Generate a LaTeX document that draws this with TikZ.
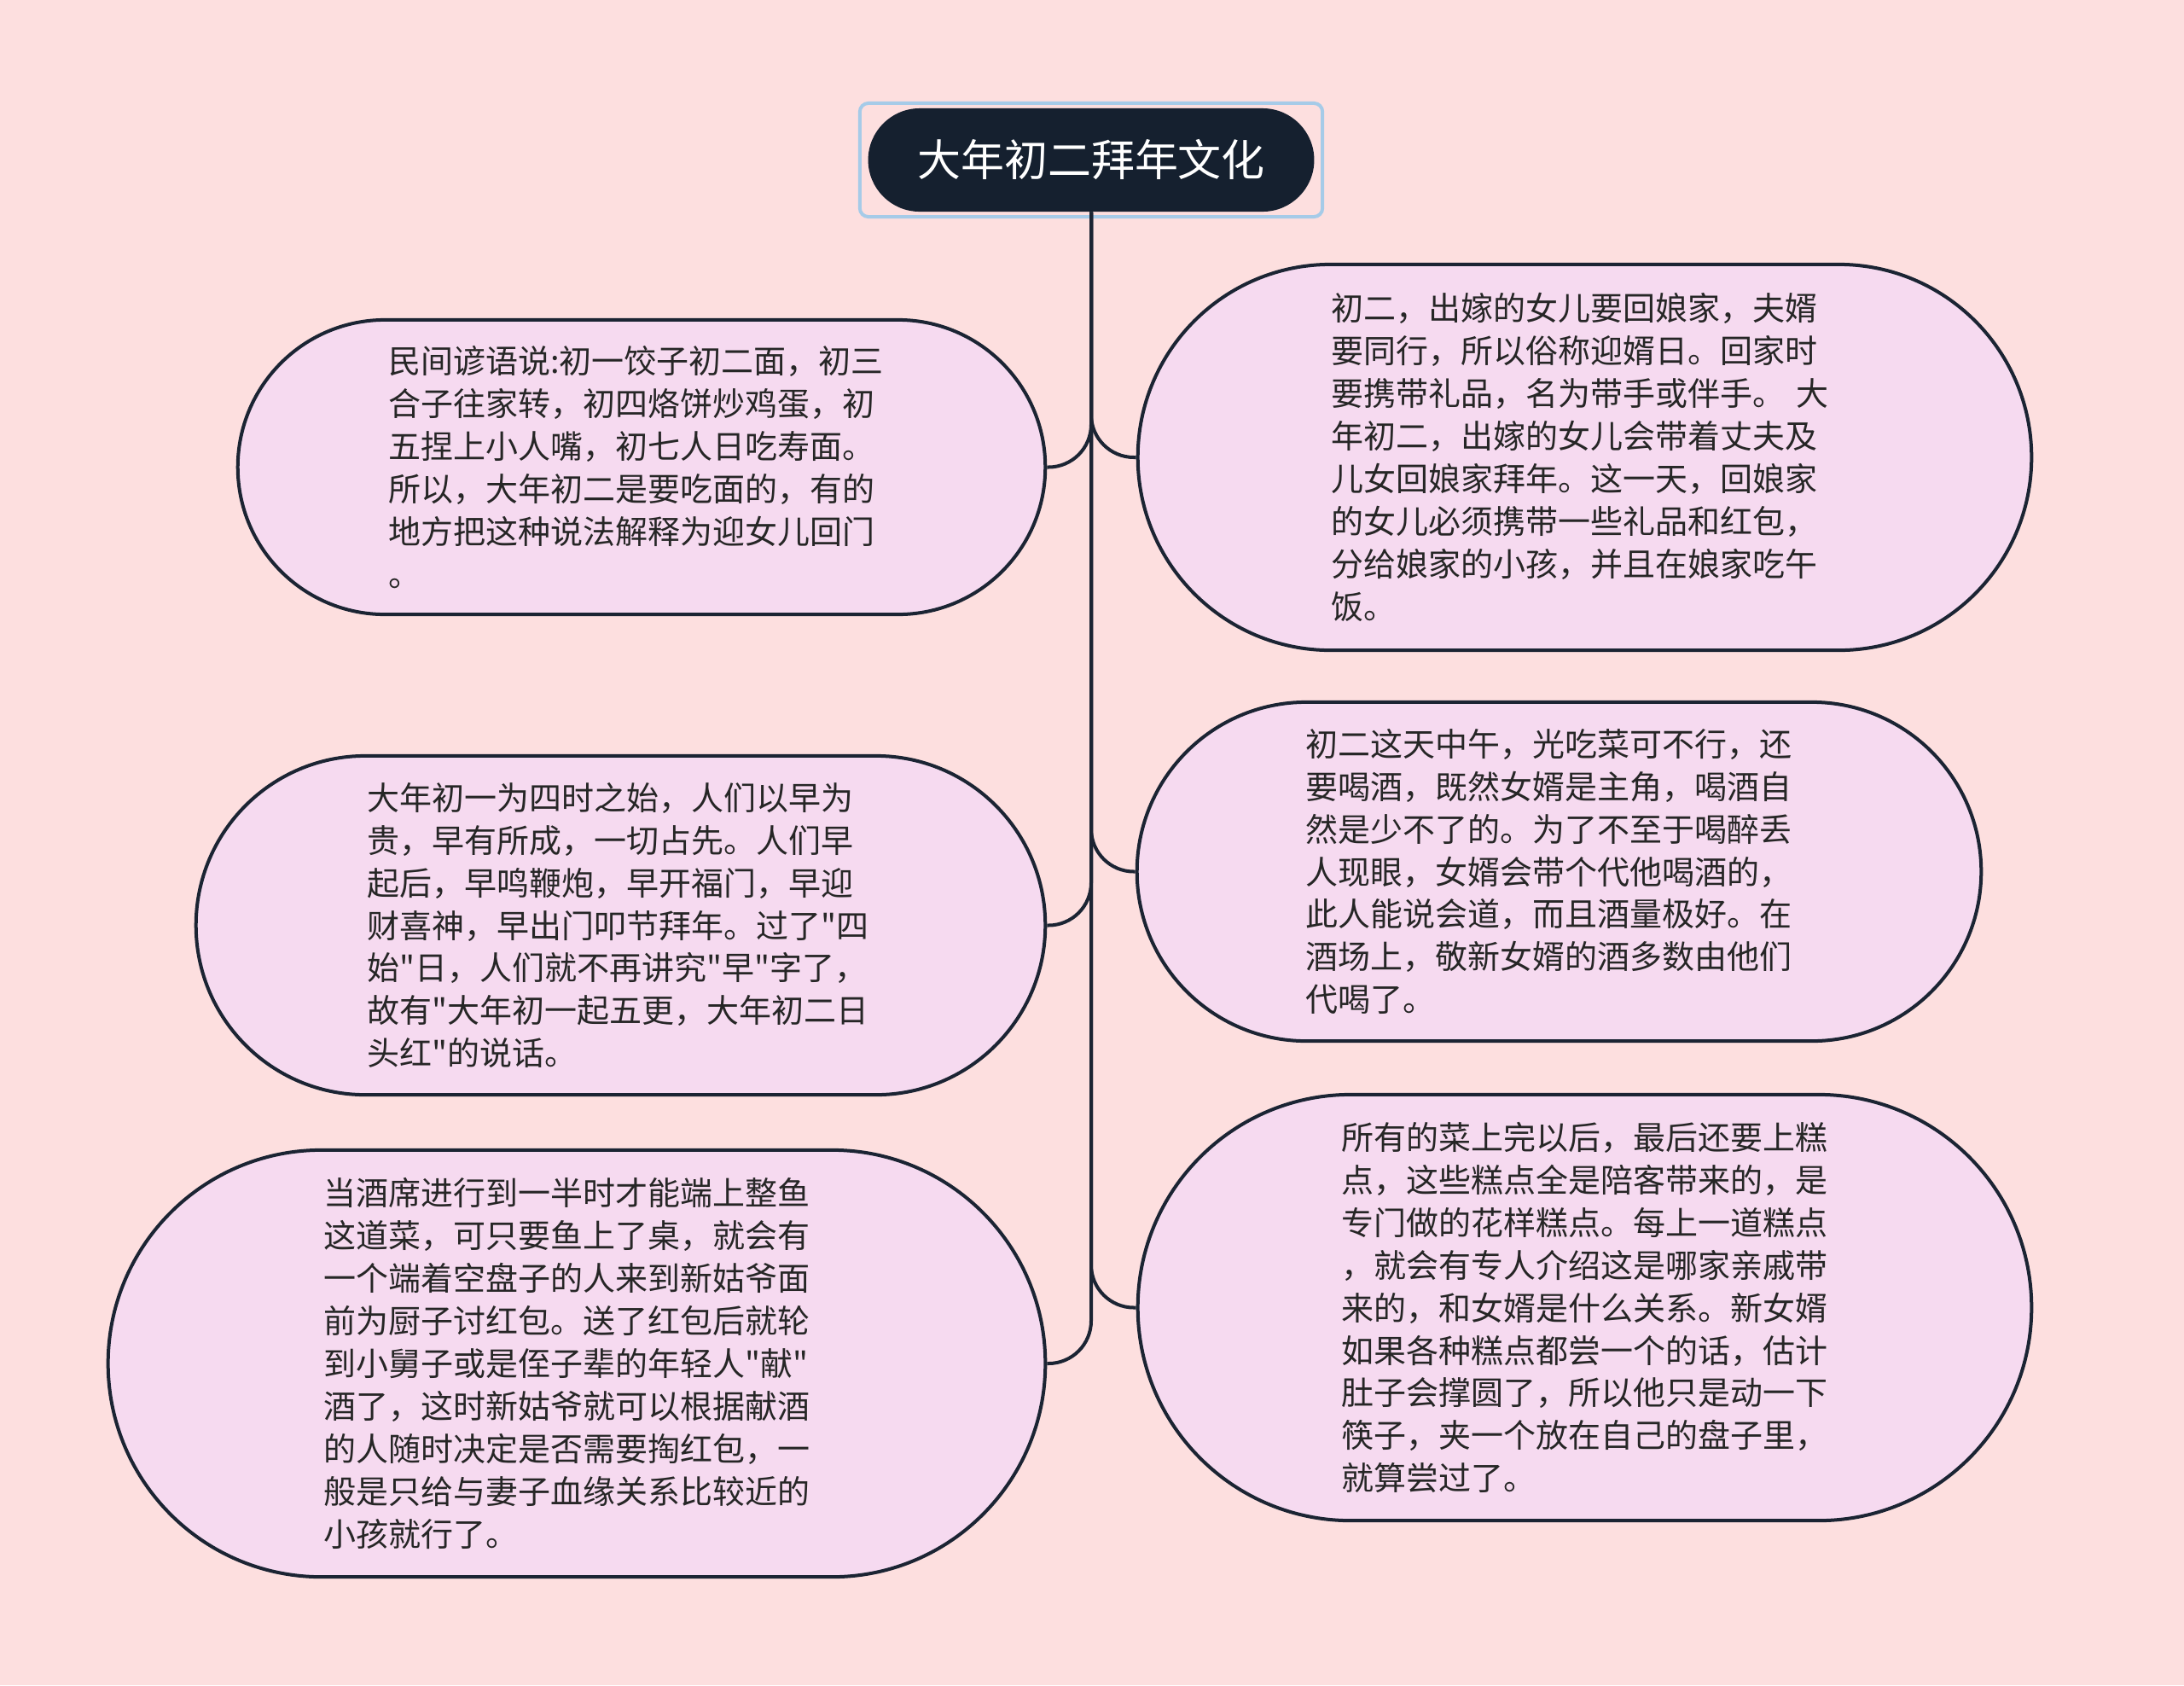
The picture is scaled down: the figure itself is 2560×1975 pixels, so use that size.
\documentclass[tikz,border=0pt]{standalone}
\usepackage{fontspec}
\setmainfont{Noto Sans CJK SC}[Ligatures=TeXOff]
\usetikzlibrary{shapes.misc}

\definecolor{bgpink}{HTML}{FDDFDF}
\definecolor{pill}{HTML}{F6DAF0}
\definecolor{edge}{HTML}{1B2433}
\definecolor{navy}{HTML}{15202F}
\definecolor{frameblue}{HTML}{A6CBE8}
\definecolor{ink}{HTML}{262626}

\begin{document}
\begin{tikzpicture}[x=0.01cm,y=-0.01cm,
  topic/.style={rounded rectangle,draw=edge,line width=0.04cm,fill=pill,text=ink,align=left,text width=5.93cm,inner sep=0pt,font=\fontsize{10.8pt}{14.2pt}\selectfont},
  link/.style={draw=edge,line width=0.04cm,rounded corners=0.5cm}]
  \useasboundingbox (0,0) rectangle (2560,1975);
  \fill[bgpink] (0,0) rectangle (2560,1975);

  % title
  \node[draw=frameblue,line width=0.04cm,rounded corners=0.1cm,minimum width=5.42cm,minimum height=1.33cm] (rootbox) at (1279,187.5) {};
  \node[rounded rectangle,fill=navy,text=white,minimum width=5.46cm,minimum height=1.21cm,font=\fontsize{14.5pt}{17pt}\selectfont] (root) at (1279,187.5) {大年初二拜年文化};

  % left side
  \node[topic,minimum width=9.46cm,minimum height=3.45cm] (l1) at (752,547.5) {民间谚语说:初一饺子初二面，初三\\合子往家转，初四烙饼炒鸡蛋，初\\五捏上小人嘴，初七人日吃寿面。\\所以，大年初二是要吃面的，有的\\地方把这种说法解释为迎女儿回门\\。};
  \node[topic,minimum width=9.95cm,minimum height=3.97cm] (l2) at (727.5,1084.5) {大年初一为四时之始，人们以早为\\贵，早有所成，一切占先。人们早\\起后，早鸣鞭炮，早开福门，早迎\\财喜神，早出门叩节拜年。过了"四\\始"日，人们就不再讲究"早"字了，\\故有"大年初一起五更，大年初二日\\头红"的说话。};
  \node[topic,minimum width=10.98cm,minimum height=5.0cm] (l3) at (676,1598) {当酒席进行到一半时才能端上整鱼\\这道菜，可只要鱼上了桌，就会有\\一个端着空盘子的人来到新姑爷面\\前为厨子讨红包。送了红包后就轮\\到小舅子或是侄子辈的年轻人"献"\\酒了，这时新姑爷就可以根据献酒\\的人随时决定是否需要掏红包，一\\般是只给与妻子血缘关系比较近的\\小孩就行了。};

  % right side
  \node[topic,minimum width=10.47cm,minimum height=4.52cm] (r1) at (1857.5,536) {初二，出嫁的女儿要回娘家，夫婿\\要同行，所以俗称迎婿日。回家时\\要携带礼品，名为带手或伴手。 大\\年初二，出嫁的女儿会带着丈夫及\\儿女回娘家拜年。这一天，回娘家\\的女儿必须携带一些礼品和红包，\\分给娘家的小孩，并且在娘家吃午\\饭。};
  \node[topic,minimum width=9.89cm,minimum height=3.97cm] (r2) at (1827.5,1021.5) {初二这天中午，光吃菜可不行，还\\要喝酒，既然女婿是主角，喝酒自\\然是少不了的。为了不至于喝醉丢\\人现眼，女婿会带个代他喝酒的，\\此人能说会道，而且酒量极好。在\\酒场上，敬新女婿的酒多数由他们\\代喝了。};
  \node[topic,text width=5.7cm,minimum width=10.47cm,minimum height=4.99cm] (r3) at (1857.5,1532.5) {所有的菜上完以后，最后还要上糕\\点，这些糕点全是陪客带来的，是\\专门做的花样糕点。每上一道糕点\\，就会有专人介绍这是哪家亲戚带\\来的，和女婿是什么关系。新女婿\\如果各种糕点都尝一个的话，估计\\肚子会撑圆了，所以他只是动一下\\筷子，夹一个放在自己的盘子里，\\就算尝过了。};

  \draw[link] (root.south) |- (l1.east);
  \draw[link] (root.south) |- (l2.east);
  \draw[link] (root.south) |- (l3.east);
  \draw[link] (root.south) |- (r1.west);
  \draw[link] (root.south) |- (r2.west);
  \draw[link] (root.south) |- (r3.west);
\end{tikzpicture}
\end{document}
